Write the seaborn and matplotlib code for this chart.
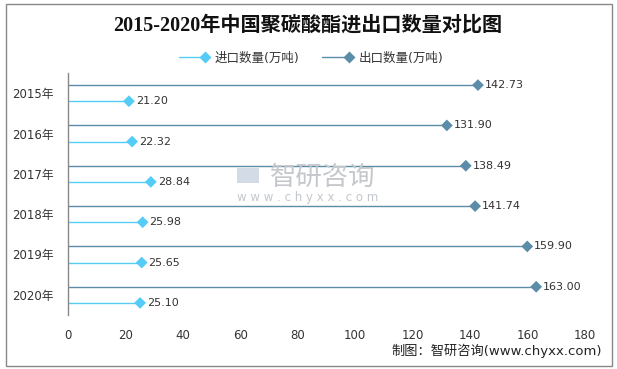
import numpy as np
import pandas as pd
import matplotlib
matplotlib.use("Agg")
import matplotlib.pyplot as plt
from matplotlib.lines import Line2D
from matplotlib.patches import Rectangle
from matplotlib.legend_handler import HandlerLine2D
import seaborn as sns

years = ["2015年", "2016年", "2017年", "2018年", "2019年", "2020年"]
imports = [21.20, 22.32, 28.84, 25.98, 25.65, 25.10]
exports = [142.73, 131.90, 138.49, 141.74, 159.90, 163.00]
series_names = ["进口数量(万吨)", "出口数量(万吨)"]
colors = {"进口数量(万吨)": "#55CCF8", "出口数量(万吨)": "#5B8DA8"}
offsets = {"进口数量(万吨)": 0.2, "出口数量(万吨)": -0.2}

sns.set_style("white")
plt.rcParams["font.family"] = ["DejaVu Sans", "Noto Sans CJK SC"]

# long table for seaborn
rows = []
for i, y in enumerate(years):
    rows.append({"year": y, "series": series_names[0], "value": imports[i], "pos": i + offsets[series_names[0]]})
    rows.append({"year": y, "series": series_names[1], "value": exports[i], "pos": i + offsets[series_names[1]]})
df = pd.DataFrame(rows)

fig = plt.figure(figsize=(6.17, 3.69), dpi=100)
ax = fig.add_axes([68 / 617, 1 - 315 / 369, (585 - 68) / 617, (315 - 73) / 369])

# lines from 0 to the value
for name in series_names:
    sub = df[df.series == name]
    ax.hlines(sub["pos"], 0, sub["value"], color=colors[name], lw=1.0, zorder=2)

sns.scatterplot(data=df, x="value", y="pos", hue="series", palette=colors,
                marker="D", s=36, edgecolor="none", legend=False, ax=ax, zorder=3)

for _, r in df.iterrows():
    ax.annotate(f"{r['value']:.2f}", (r["value"], r["pos"]), xytext=(5, 0),
                textcoords="offset points", ha="left", va="center",
                fontsize=8, color="#333333")

ax.set_xlim(0, 180)
ax.set_xticks(np.arange(0, 181, 20))
ax.set_ylim(len(years) - 0.5, -0.5)
ax.set_yticks(range(len(years)))
ax.set_yticklabels(years)
ax.set_xlabel("")
ax.set_ylabel("")
ax.tick_params(axis="x", length=0, pad=10, labelsize=8.5, colors="#333333")
ax.tick_params(axis="y", length=0, pad=10, labelsize=8.5, colors="#333333")
for s in ["top", "right", "bottom"]:
    ax.spines[s].set_visible(False)
ax.spines["left"].set_color("#888888")
ax.spines["left"].set_linewidth(1.0)


class EndMarker(HandlerLine2D):
    def create_artists(self, legend, orig_handle, xdescent, ydescent, width, height, fontsize, trans):
        arts = super().create_artists(legend, orig_handle, xdescent, ydescent, width, height, fontsize, trans)
        arts[0].set_markevery([2])
        return arts


handles = [Line2D([0], [0], color=colors[n], lw=1.0, marker="D", markersize=6.5,
                  markeredgecolor="none") for n in series_names]
fig.legend(handles, series_names, loc="center", bbox_to_anchor=(311 / 617, 1 - 58 / 369),
           ncol=2, frameon=False, fontsize=9, handlelength=2.1, handletextpad=0.8,
           columnspacing=1.8, handler_map={Line2D: EndMarker(numpoints=1)},
           labelcolor="#333333")

fig.text(308 / 617, 1 - 26 / 369, "2015-2020年中国聚碳酸酯进出口数量对比图",
         ha="center", va="center", fontsize=14.5, fontweight="bold",
         family=["Liberation Serif", "Noto Sans CJK SC"], color="#111111")

# watermark
fig.text(323 / 617, 1 - 177 / 369, "智研咨询", ha="center", va="center",
         fontsize=19, color="#c4c7cb", family=["Noto Sans CJK SC"], zorder=1)
fig.text(308 / 617, 1 - 197 / 369, "w w w . c h y x x . c o m", ha="center", va="center",
         fontsize=8.5, color="#c4c7cb", zorder=1)
fig.patches.append(Rectangle((237 / 617, 1 - 183 / 369), 22 / 617, 15 / 369,
                             transform=fig.transFigure, facecolor="#d3dbe6",
                             edgecolor="none", zorder=0))

fig.text(602 / 617, 1 - 351 / 369, "制图：智研咨询(www.chyxx.com)", ha="right", va="center",
         fontsize=9.5, color="#222222")

fig.patches.append(Rectangle((6 / 617, 3 / 369), 606 / 617, 362 / 369,
                             transform=fig.transFigure, fill=False,
                             edgecolor="#888888", lw=1.0))

fig.savefig("out.png", dpi=100)
